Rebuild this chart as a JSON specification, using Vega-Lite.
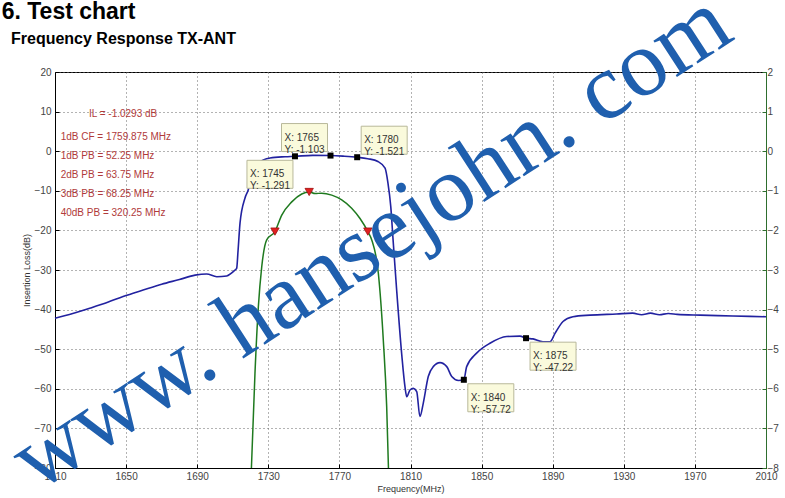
{
  "$schema": "https://vega.github.io/schema/vega-lite/v6.json",
  "width": 711,
  "height": 396,
  "autosize": {"type": "none"},
  "padding": {"left": 55, "top": 72, "right": 19, "bottom": 30},
  "background": "white",
  "title": {
    "text": "Frequency Response TX-ANT",
    "anchor": "start",
    "frame": "group",
    "dx": -44,
    "offset": -72,
    "font": "Liberation Sans",
    "fontSize": 16,
    "fontWeight": "bold",
    "color": "#000"
  },
  "config": {
    "view": {"stroke": "#000", "strokeWidth": 1},
    "axis": {
      "labelFont": "Liberation Sans",
      "labelFontSize": 10,
      "labelColor": "#444",
      "labelFlush": false,
      "labelOverlap": false,
      "titleFont": "Liberation Sans",
      "titleFontSize": 9,
      "titleFontWeight": "normal",
      "titleColor": "#333",
      "tickSize": -4,
      "domainWidth": 1,
      "tickWidth": 1
    }
  },
  "datasets": {
    "blue": [
      {"f": 1610, "v": -42.2}, {"f": 1620, "v": -41.0}, {"f": 1630, "v": -39.6}, {"f": 1640, "v": -38.1},
      {"f": 1648.3, "v": -36.7}, {"f": 1660, "v": -35.0}, {"f": 1670, "v": -33.6}, {"f": 1680, "v": -32.4},
      {"f": 1688.8, "v": -31.3}, {"f": 1695.3, "v": -31.0}, {"f": 1701.0, "v": -31.7}, {"f": 1706.6, "v": -31.5},
      {"f": 1711.3, "v": -30.0}, {"f": 1712.2, "v": -29.6}, {"f": 1713.0, "v": -25}, {"f": 1714.1, "v": -18.1},
      {"f": 1716.9, "v": -11.8}, {"f": 1718.7, "v": -9.8}, {"f": 1720.8, "v": -6}, {"f": 1724.2, "v": -3},
      {"f": 1731.0, "v": -1.7}, {"f": 1739.4, "v": -1.4}, {"f": 1745, "v": -1.291}, {"f": 1755, "v": -1.05},
      {"f": 1765, "v": -1.103}, {"f": 1772, "v": -1.25}, {"f": 1780, "v": -1.521}, {"f": 1786, "v": -1.9},
      {"f": 1791.7, "v": -2.6}, {"f": 1795.7, "v": -4.3}, {"f": 1797.3, "v": -8}, {"f": 1798.9, "v": -14},
      {"f": 1800.2, "v": -22.4}, {"f": 1802.2, "v": -35}, {"f": 1805.1, "v": -51.5}, {"f": 1806.9, "v": -59.5},
      {"f": 1807.9, "v": -62}, {"f": 1809.7, "v": -60.3}, {"f": 1811.6, "v": -59.9}, {"f": 1813.5, "v": -60.7},
      {"f": 1815.3, "v": -67}, {"f": 1817.2, "v": -63.6}, {"f": 1820.0, "v": -56.9}, {"f": 1822.8, "v": -54.4},
      {"f": 1826.6, "v": -53.4}, {"f": 1830.4, "v": -54.4}, {"f": 1833.2, "v": -56.9}, {"f": 1837, "v": -57.9},
      {"f": 1840, "v": -57.72}, {"f": 1841.6, "v": -54.4}, {"f": 1847.2, "v": -51}, {"f": 1854.7, "v": -48.5},
      {"f": 1864.1, "v": -46.8}, {"f": 1871.6, "v": -46.7}, {"f": 1875, "v": -47.22}, {"f": 1878.9, "v": -47.4},
      {"f": 1884.5, "v": -48.1}, {"f": 1888.5, "v": -48.1}, {"f": 1891.3, "v": -46}, {"f": 1895.8, "v": -43},
      {"f": 1901.4, "v": -41.8}, {"f": 1911.0, "v": -41.4}, {"f": 1926.0, "v": -41.1}, {"f": 1935, "v": -40.9},
      {"f": 1940, "v": -41.3}, {"f": 1945, "v": -40.9}, {"f": 1950, "v": -41.3}, {"f": 1955, "v": -41.0},
      {"f": 1960, "v": -41.2}, {"f": 1972.9, "v": -41.4}, {"f": 1991.4, "v": -41.6}, {"f": 2010, "v": -41.8}
    ],
    "green": [
      {"f": 1720.5, "v": -8.0}, {"f": 1722.5, "v": -5.61}, {"f": 1724.4, "v": -3.93}, {"f": 1726.3, "v": -2.92},
      {"f": 1729.1, "v": -2.24}, {"f": 1733.75, "v": -2.03}, {"f": 1737.5, "v": -1.62}, {"f": 1743.2, "v": -1.28},
      {"f": 1748.8, "v": -1.08}, {"f": 1753, "v": -1.03}, {"f": 1756.3, "v": -1.07}, {"f": 1760.0, "v": -1.06},
      {"f": 1765.7, "v": -1.11}, {"f": 1771.3, "v": -1.23}, {"f": 1776.9, "v": -1.44}, {"f": 1781.6, "v": -1.70},
      {"f": 1786.0, "v": -2.03}, {"f": 1788.2, "v": -2.24}, {"f": 1791.9, "v": -3.08}, {"f": 1794.7, "v": -4.77},
      {"f": 1796.6, "v": -6.45}, {"f": 1797.6, "v": -8.0}
    ],
    "tri": [
      {"f": 1733.75, "v": -2.03}, {"f": 1753, "v": -1.03}, {"f": 1786.0, "v": -2.03}
    ],
    "tips": [
      {"f": 1745, "v": -1.291, "pos": "bl", "tip": ["X: 1745", "Y: -1.291"]},
      {"f": 1765, "v": -1.103, "pos": "al", "tip": ["X: 1765", "Y: -1.103"]},
      {"f": 1780, "v": -1.521, "pos": "ar", "tip": ["X: 1780", "Y: -1.521"]},
      {"f": 1840, "v": -57.72, "pos": "br", "tip": ["X: 1840", "Y: -57.72"]},
      {"f": 1875, "v": -47.22, "pos": "br", "tip": ["X: 1875", "Y: -47.22"]}
    ],
    "notes": [
      {"f": 1629.1, "v": 9.39, "label": "IL = -1.0293 dB"},
      {"f": 1613.2, "v": 3.66, "label": "1dB CF = 1759.875 MHz"},
      {"f": 1613.2, "v": -1.14, "label": "1dB PB = 52.25 MHz"},
      {"f": 1613.2, "v": -6.01, "label": "2dB PB = 63.75 MHz"},
      {"f": 1613.2, "v": -10.81, "label": "3dB PB = 68.25 MHz"},
      {"f": 1613.2, "v": -15.68, "label": "40dB PB = 320.25 MHz"}
    ],
    "heads": [
      {"f": 1580.0, "v": 33.3, "label": "6. Test chart"}
    ],
    "wm": [
      {"f": 1788.0, "v": -22.9, "label": "www. hansejohn. com"}
    ]
  },
  "encoding": {
    "x": {
      "field": "f",
      "type": "quantitative",
      "title": "Frequency(MHz)",
      "scale": {"domain": [1610, 2010], "nice": false, "zero": false},
      "axis": {
        "values": [1610, 1650, 1690, 1730, 1770, 1810, 1850, 1890, 1930, 1970, 2010],
        "format": "d",
        "grid": true,
        "gridColor": "#666",
        "gridDash": [1, 3],
        "gridWidth": 1,
        "domainColor": "#000",
        "tickColor": "#000",
        "labelPadding": 7,
        "titlePadding": 3
      }
    }
  },
  "layer": [
    {
      "encoding": {
        "y": {
          "field": "v",
          "type": "quantitative",
          "title": "Insertion Loss(dB)",
          "scale": {"domain": [-80, 20], "nice": false, "zero": false},
          "axis": {
            "orient": "left",
            "values": [-80, -70, -60, -50, -40, -30, -20, -10, 0, 10, 20],
            "grid": true,
            "gridColor": "#666",
            "gridDash": [1, 3],
            "gridWidth": 1,
            "domainColor": "#000",
            "tickColor": "#000",
            "labelPadding": 8,
            "titlePadding": 3
          }
        }
      },
      "layer": [
        {
          "data": {"name": "blue"},
          "mark": {"type": "line", "color": "#2222a0", "strokeWidth": 1.6, "interpolate": "monotone"}
        },
        {
          "data": {"name": "tips"},
          "transform": [{"filter": "datum.pos == 'bl'"}],
          "mark": {"type": "point", "shape": "M-1,-0.609H1V0.609H-1Z", "size": 2116, "filled": true, "fill": "#fafadc", "stroke": "#b8b89a", "strokeWidth": 1, "opacity": 1, "xOffset": -25, "yOffset": 18}
        },
        {
          "data": {"name": "tips"},
          "transform": [{"filter": "datum.pos == 'bl'"}],
          "mark": {"type": "text", "align": "left", "baseline": "middle", "dx": -45, "dy": 18, "lineHeight": 12, "font": "Liberation Sans", "fontSize": 10, "color": "#333"},
          "encoding": {"text": {"field": "tip", "type": "nominal"}}
        },
        {
          "data": {"name": "tips"},
          "transform": [{"filter": "datum.pos == 'al'"}],
          "mark": {"type": "point", "shape": "M-1,-0.609H1V0.609H-1Z", "size": 2116, "filled": true, "fill": "#fafadc", "stroke": "#b8b89a", "strokeWidth": 1, "opacity": 1, "xOffset": -26, "yOffset": -18}
        },
        {
          "data": {"name": "tips"},
          "transform": [{"filter": "datum.pos == 'al'"}],
          "mark": {"type": "text", "align": "left", "baseline": "middle", "dx": -46, "dy": -18, "lineHeight": 12, "font": "Liberation Sans", "fontSize": 10, "color": "#333"},
          "encoding": {"text": {"field": "tip", "type": "nominal"}}
        },
        {
          "data": {"name": "tips"},
          "transform": [{"filter": "datum.pos == 'ar'"}],
          "mark": {"type": "point", "shape": "M-1,-0.609H1V0.609H-1Z", "size": 2116, "filled": true, "fill": "#fafadc", "stroke": "#b8b89a", "strokeWidth": 1, "opacity": 1, "xOffset": 27, "yOffset": -17}
        },
        {
          "data": {"name": "tips"},
          "transform": [{"filter": "datum.pos == 'ar'"}],
          "mark": {"type": "text", "align": "left", "baseline": "middle", "dx": 7, "dy": -17, "lineHeight": 12, "font": "Liberation Sans", "fontSize": 10, "color": "#333"},
          "encoding": {"text": {"field": "tip", "type": "nominal"}}
        },
        {
          "data": {"name": "tips"},
          "transform": [{"filter": "datum.pos == 'br'"}],
          "mark": {"type": "point", "shape": "M-1,-0.609H1V0.609H-1Z", "size": 2116, "filled": true, "fill": "#fafadc", "stroke": "#b8b89a", "strokeWidth": 1, "opacity": 1, "xOffset": 27, "yOffset": 18}
        },
        {
          "data": {"name": "tips"},
          "transform": [{"filter": "datum.pos == 'br'"}],
          "mark": {"type": "text", "align": "left", "baseline": "middle", "dx": 7, "dy": 18, "lineHeight": 12, "font": "Liberation Sans", "fontSize": 10, "color": "#333"},
          "encoding": {"text": {"field": "tip", "type": "nominal"}}
        },
        {
          "data": {"name": "tips"},
          "mark": {"type": "point", "shape": "square", "filled": true, "color": "#000", "size": 36, "opacity": 1}
        },
        {
          "data": {"name": "notes"},
          "mark": {"type": "text", "align": "left", "baseline": "middle", "font": "Liberation Sans", "fontSize": 10, "color": "#b03a3a"},
          "encoding": {"text": {"field": "label", "type": "nominal"}}
        },
        {
          "data": {"name": "heads"},
          "mark": {"type": "text", "align": "left", "baseline": "alphabetic", "font": "Liberation Sans", "fontSize": 23, "fontWeight": "bold", "color": "#000"},
          "encoding": {"text": {"field": "label", "type": "nominal"}}
        }
      ]
    },
    {
      "encoding": {
        "y": {
          "field": "v",
          "type": "quantitative",
          "title": null,
          "scale": {"domain": [-8, 2], "nice": false, "zero": false},
          "axis": {
            "orient": "right",
            "values": [-8, -7, -6, -5, -4, -3, -2, -1, 0, 1, 2],
            "grid": false,
            "domainColor": "#2e6e2e",
            "tickColor": "#2e6e2e",
            "labelPadding": 5
          }
        }
      },
      "layer": [
        {
          "data": {"name": "green"},
          "mark": {"type": "line", "color": "#1f7a1f", "strokeWidth": 1.5, "interpolate": "monotone"}
        },
        {
          "data": {"name": "tri"},
          "mark": {"type": "point", "shape": "triangle-down", "filled": true, "fill": "#e02020", "stroke": "#a01010", "strokeWidth": 0.8, "size": 70, "opacity": 1}
        }
      ]
    },
    {
      "data": {"name": "wm"},
      "mark": {"type": "text", "align": "center", "baseline": "middle", "angle": 327, "font": "Liberation Serif", "fontSize": 94, "color": "#1f5fae"},
      "encoding": {
        "y": {"field": "v", "type": "quantitative", "scale": {"domain": [-80, 20], "nice": false, "zero": false}, "axis": null},
        "text": {"field": "label", "type": "nominal"}
      }
    }
  ],
  "resolve": {"scale": {"y": "independent"}}
}
